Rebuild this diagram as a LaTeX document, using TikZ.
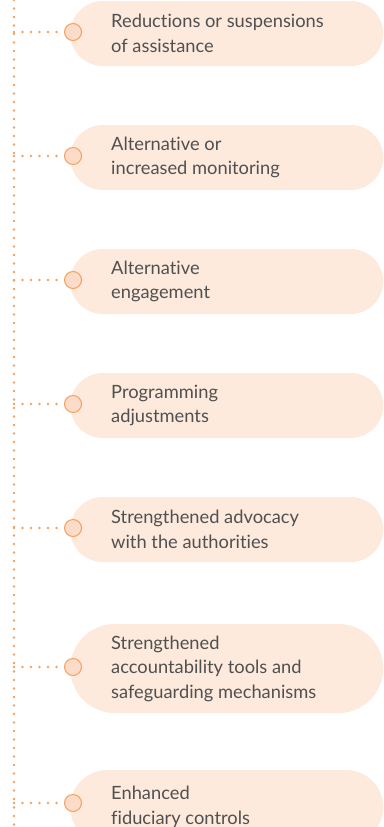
\documentclass[tikz,border=0pt]{standalone}
\usepackage{fontspec}
\setmainfont{Lato}[Ligatures=NoCommon]
\definecolor{pillfill}{HTML}{FDEADD}
\definecolor{accent}{HTML}{F4A05E}
\definecolor{knobfill}{HTML}{FCDCC8}
\definecolor{textgray}{HTML}{505050}
\begin{document}
\begin{tikzpicture}[x=1pt,y=-1pt,
  pill/.style={fill=pillfill, draw=none, rounded corners=#1, anchor=west,
    minimum width=313pt, minimum height=2*#1, inner sep=0pt},
  label/.style={anchor=west, align=left, text=textgray, inner sep=0pt,
    font=\fontsize{18.3pt}{24.5pt}\selectfont},
  knob/.style={circle, draw=accent, fill=knobfill, line width=1pt,
    minimum size=17pt, inner sep=0pt},
  dots/.style={draw=accent, line width=2.8pt, line cap=round,
    dash pattern=on 0pt off 8.5pt}]
\useasboundingbox (0,0) rectangle (383,827);
\clip (0,0) rectangle (383,827);

% spine
\coordinate (top) at (14,0);
\coordinate (bottom) at (14,827);
\draw[dots] (top) -- (bottom);

% items: name / pill centre y / half height / knob y / text
\foreach \n/\y/\h/\ky/\t in {
  1/33.5/32.5/32/{Reductions or suspensions\\of assistance},
  2/157.5/32.5/156/{Alternative or\\increased monitoring},
  3/281.5/32.5/280/{Alternative\\engagement},
  4/405.5/32.5/404/{Programming\\adjustments},
  5/529.5/32.5/528/{Strengthened advocacy\\with the authorities},
  6/668.5/44.5/667/{Strengthened\\accountability tools and\\safeguarding mechanisms},
  7/807/37/803/{Enhanced\\fiduciary controls}} {
  \node[pill=\h] (p\n) at (70,\y) {};
  \node[label] (t\n) at (111,\y) {\t};
  \node[knob] (k\n) at (73,\ky) {};
  \coordinate (j\n) at (14,\ky);
  \draw[dots] (j\n) -- (k\n.west);
}
\end{tikzpicture}
\end{document}
